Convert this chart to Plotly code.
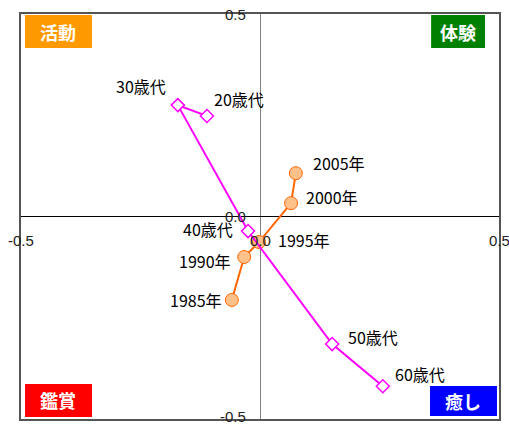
import plotly.graph_objects as go

# Data
age_labels = ["20歳代", "30歳代", "40歳代", "50歳代", "60歳代"]
age_x = [-0.111, -0.172, -0.025, 0.151, 0.257]
age_y = [0.248, 0.275, -0.036, -0.315, -0.419]

year_labels = ["1985年", "1990年", "1995年", "2000年", "2005年"]
year_x = [-0.059, -0.033, -0.002, 0.065, 0.075]
year_y = [-0.206, -0.100, -0.063, 0.033, 0.107]

x_ticks = [-0.5, 0.0, 0.5]
y_ticks = [0.5, 0.0, -0.5]

quad_labels = ["活動", "体験", "鑑賞", "癒し"]
quad_colors = ["#FF9900", "#008000", "#FF0000", "#0000FF"]

# label offsets (style): (xanchor, xshift, yshift)
age_off = [("left", 5, 17), ("right", -10, 19), ("right", -13, 2), ("left", 14, 7), ("left", 10, 12)]
year_off = [("right", -8, 0), ("right", -11, -4), ("left", 17, 2), ("left", 13, 6), ("left", 15, 10)]

CJK = "Noto Sans CJK JP"

fig = go.Figure()
fig.add_trace(go.Scatter(
    x=year_x, y=year_y, mode="lines+markers",
    line=dict(color="#FF6600", width=2),
    marker=dict(symbol="circle", size=13, color="#FFC08A",
                line=dict(color="#FF6600", width=1)),
    hoverinfo="skip", showlegend=False))
fig.add_trace(go.Scatter(
    x=age_x, y=age_y, mode="lines+markers",
    line=dict(color="#FF00FF", width=2),
    marker=dict(symbol="diamond", size=10, color="white",
                line=dict(color="#FF00FF", width=1.5)),
    hoverinfo="skip", showlegend=False))

annotations = []
labfont = dict(family=CJK, size=16, color="black")
for lab, x, y, (anc, xs, ys) in zip(age_labels, age_x, age_y, age_off):
    annotations.append(dict(x=x, y=y, xref="x", yref="y", text=lab, showarrow=False,
                            xanchor=anc, yanchor="middle", xshift=xs, yshift=ys, font=labfont))
for lab, x, y, (anc, xs, ys) in zip(year_labels, year_x, year_y, year_off):
    annotations.append(dict(x=x, y=y, xref="x", yref="y", text=lab, showarrow=False,
                            xanchor=anc, yanchor="middle", xshift=xs, yshift=ys, font=labfont))

tickfont = dict(family="Liberation Sans", size=15, color="#222")
for t in x_ticks:
    annotations.append(dict(x=t, y=0, xref="x", yref="y", text=f"{t:.1f}", showarrow=False,
                            xanchor="center", yanchor="middle", yshift=-24, font=tickfont))
for t in y_ticks:
    annotations.append(dict(x=0, y=t, xref="x", yref="y", text=f"{t:.1f}", showarrow=False,
                            xanchor="right", yanchor="middle", xshift=-12,
                            yshift=3 if t < 0 else 0, font=tickfont))

# Quadrant label boxes (paper coords)
quad_boxes = [(0.0084, 0.1485, 0.916, 0.9975),
              (0.858, 0.9707, 0.916, 0.9975),
              (0.0084, 0.1485, 0.005, 0.0864),
              (0.8556, 0.9958, 0.0074, 0.0815)]
shapes = []
for lab, col, (x0, x1, y0, y1) in zip(quad_labels, quad_colors, quad_boxes):
    shapes.append(dict(type="rect", xref="paper", yref="paper", x0=x0, x1=x1, y0=y0, y1=y1,
                       fillcolor=col, line=dict(width=0), layer="below"))
    annotations.append(dict(x=(x0 + x1) / 2, y=(y0 + y1) / 2, xref="paper", yref="paper",
                            text=f"<b>{lab}</b>", showarrow=False, xanchor="center", yanchor="middle",
                            font=dict(family=CJK, size=18, color="white")))

fig.update_layout(
    width=509, height=425,
    margin=dict(l=21, r=10, t=14, b=6),
    paper_bgcolor="white", plot_bgcolor="white",
    xaxis=dict(range=[-0.5, 0.5], showgrid=False, showticklabels=False, ticks="",
               zeroline=True, zerolinecolor="#808080", zerolinewidth=1,
               showline=True, mirror=True, linecolor="#555", linewidth=2, fixedrange=True),
    yaxis=dict(range=[-0.5, 0.5], showgrid=False, showticklabels=False, ticks="",
               zeroline=True, zerolinecolor="black", zerolinewidth=1,
               showline=True, mirror=True, linecolor="#555", linewidth=2, fixedrange=True),
    annotations=annotations, shapes=shapes,
)

fig.write_html("out.html")
